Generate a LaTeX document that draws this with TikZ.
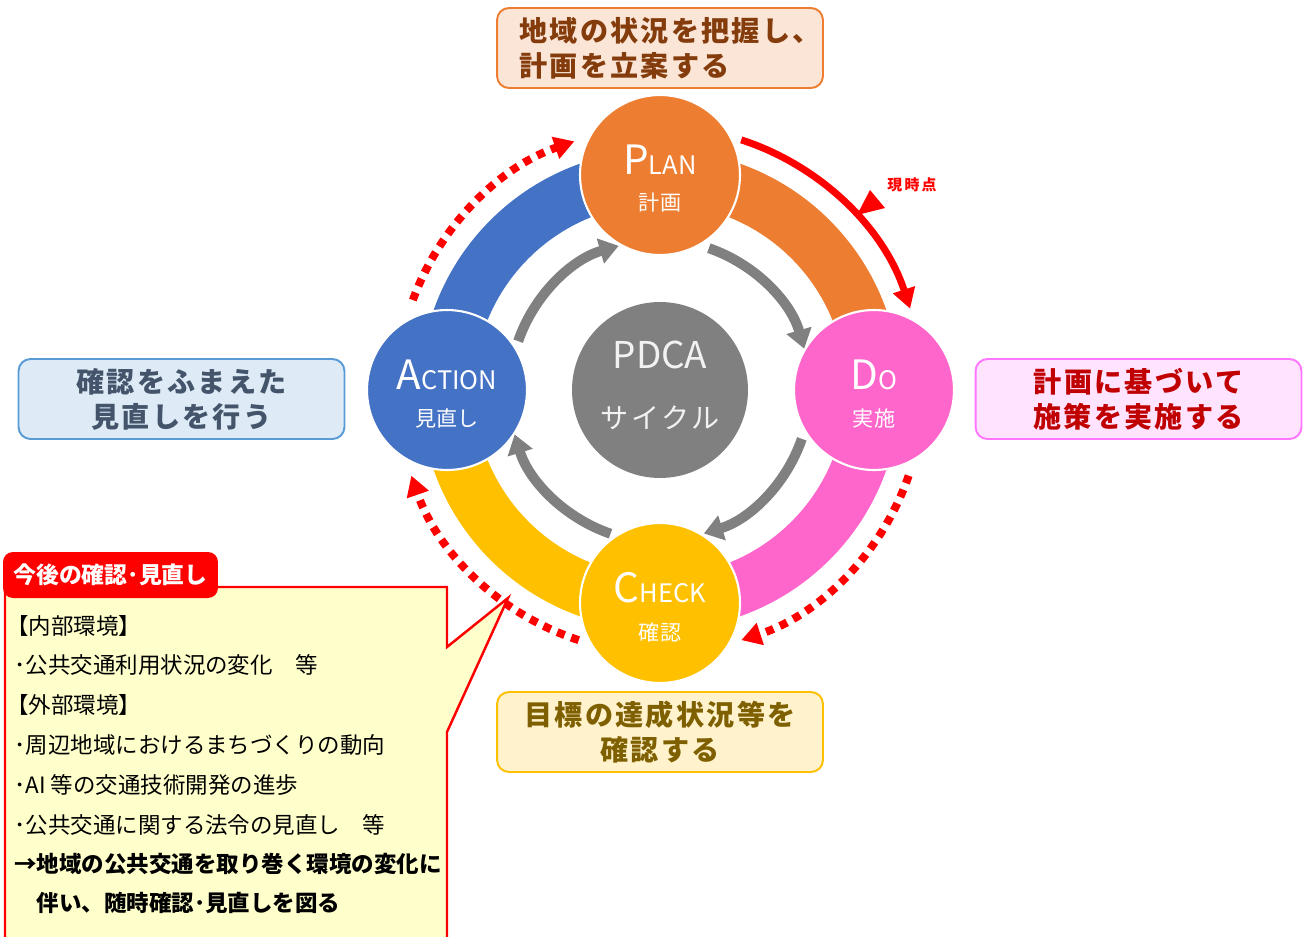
\documentclass[tikz,border=0pt]{standalone}
\usepackage{fontspec}
\setmainfont{Noto Sans CJK JP}
\usetikzlibrary{arrows.meta}
\definecolor{cplan}{HTML}{ED7D31}
\definecolor{cdo}{HTML}{FF66CC}
\definecolor{ccheck}{HTML}{FFC000}
\definecolor{cact}{HTML}{4472C4}
\definecolor{cgray}{HTML}{808080}
\definecolor{cred}{HTML}{FF0000}
\definecolor{planfill}{HTML}{FBE5D6}
\definecolor{plantext}{HTML}{843C0C}
\definecolor{dofill}{HTML}{FFE3FF}
\definecolor{doline}{HTML}{FF77FF}
\definecolor{dotext}{HTML}{C00000}
\definecolor{actfill}{HTML}{DEEBF7}
\definecolor{actline}{HTML}{5B9BD5}
\definecolor{acttext}{HTML}{44546A}
\definecolor{chkfill}{HTML}{FFF2CC}
\definecolor{chkline}{HTML}{FFC000}
\definecolor{chktext}{HTML}{7F6000}
\definecolor{notefill}{HTML}{FFFFCC}
\definecolor{pdcatext}{HTML}{F2F2F2}

\newcommand\boxfont{\fontsize{16}{19.8}\selectfont\bfseries\addfontfeatures{LetterSpace=8}}
\newcommand\stlabel[2]{{\fontsize{23}{23}\selectfont #1}{\fontsize{14.5}{14.5}\selectfont #2}}

\begin{document}
\begin{tikzpicture}[x=0.02cm,y=0.02cm,
  band/.style={line width=1.08cm},
  stage/.style={circle,minimum size=3.2cm,inner sep=0,draw=white,line width=1.2pt},
  biglbl/.style={text=white,inner sep=0},
  jplbl/.style={text=white,inner sep=0,font=\fontsize{12}{12}\selectfont},
  garrow/.style={cgray,line width=0.2cm,-{Triangle[width=0.5cm,length=0.38cm]}},
  rsolid/.style={cred,line width=0.14cm,-{Triangle[width=0.44cm,length=0.4cm]}},
  rdot/.style={cred,line width=0.16cm,dash pattern=on 0.16cm off 0.14cm,-{Triangle[width=0.44cm,length=0.4cm]}},
  tbox/.style={rounded corners=0.24cm,line width=1.1pt,minimum width=6.52cm,minimum height=1.6cm,inner sep=0,font=\boxfont},
  notetxt/.style={anchor=west,inner sep=0,font=\fontsize{12.8}{12.8}\selectfont},
  notebold/.style={anchor=west,inner sep=0,font=\fontsize{12.8}{12.8}\selectfont\bfseries}
]
\useasboundingbox (0,0) rectangle (1303,-937);
\clip (0,0) rectangle (1303,-937);
\fill[white] (0,0) rectangle (1303,-937);

\coordinate (C) at (660,-390);
% bands
\draw[band,cplan] (C) ++(90:213) arc[start angle=90,end angle=0,radius=213];
\draw[band,cdo] (C) ++(0:213) arc[start angle=0,end angle=-90,radius=213];
\draw[band,ccheck] (C) ++(-90:213) arc[start angle=-90,end angle=-180,radius=213];
\draw[band,cact] (C) ++(180:213) arc[start angle=180,end angle=90,radius=213];

% circles
\node[stage,fill=cplan] (plan) at (660,-175) {};
\node[stage,fill=cdo] (do) at (874,-390) {};
\node[stage,fill=ccheck] (check) at (660,-603) {};
\node[stage,fill=cact] (act) at (447,-390) {};
\node[circle,minimum size=3.52cm,inner sep=0,fill=cgray] (pdca) at (C) {};

% gray inner arrows
\draw[garrow] (C) ++(71:150) arc[start angle=71,end angle=16,radius=150];
\draw[garrow] (C) ++(-19:150) arc[start angle=-19,end angle=-73,radius=150];
\draw[garrow] (C) ++(-109:152) arc[start angle=-109,end angle=-163,radius=152];
\draw[garrow] (C) ++(161:150) arc[start angle=161,end angle=106,radius=150];

% red outer arrows
\draw[rsolid] (C) ++(72:263) arc[start angle=72,end angle=18,radius=263];
\draw[rdot] (C) ++(-19:263) arc[start angle=-19,end angle=-72,radius=263];
\draw[rdot] (C) ++(-108:263) arc[start angle=-108,end angle=-161,radius=263];
\draw[rdot] (C) ++(160:263) arc[start angle=160,end angle=109,radius=263];
\fill[cred] (857,-215) -- (870,-190) -- (885,-208) -- cycle;
\node[text=cred,inner sep=0,font=\fontsize{8.5}{8.5}\selectfont\bfseries\addfontfeatures{LetterSpace=15}] (now) at (912,-185) {現時点};

% circle labels
\node[biglbl] (planl) at (660,-160) {\stlabel{P}{LAN}};
\node[jplbl] (planj) at (660,-203) {計画};
\node[biglbl] (dol) at (874,-375) {\stlabel{D}{O}};
\node[jplbl] (doj) at (874,-418) {実施};
\node[biglbl] (checkl) at (660,-588) {\stlabel{C}{HECK}};
\node[jplbl] (checkj) at (660,-632) {確認};
\node[biglbl] (actl) at (447,-375) {\stlabel{A}{CTION}};
\node[jplbl] (actj) at (447,-418) {見直し};
\node[text=pdcatext,inner sep=0,font=\fontsize{21}{21}\selectfont] (pdcal) at (660,-355) {PDCA};
\node[text=pdcatext,inner sep=0,font=\fontsize{16}{16}\selectfont\addfontfeatures{LetterSpace=10}] (pdcaj) at (660,-418) {サイクル};

% text boxes
\node[tbox,draw=cplan,fill=planfill,text=plantext,align=left] (tplan) at (660,-48) {\hspace*{0.4cm}地域の状況を把握し、\\\hspace*{0.4cm}計画を立案する};
\node[tbox,draw=doline,fill=dofill,text=dotext,align=center] (tdo) at (1138.5,-399) {計画に基づいて\\施策を実施する};
\node[tbox,draw=actline,fill=actfill,text=acttext,align=center] (tact) at (181.5,-399) {確認をふまえた\\見直しを行う};
\node[tbox,draw=chkline,fill=chkfill,text=chktext,align=center] (tchk) at (660,-732) {目標の達成状況等を\\確認する};

% callout
\filldraw[draw=cred,fill=notefill,line width=1.4pt] (5,-587) -- (447,-587) -- (447,-647) -- (508,-598) -- (447,-732) -- (447,-960) -- (5,-960) -- cycle;
\node[fill=cred,rounded corners=0.2cm,minimum width=4.3cm,minimum height=0.92cm,inner sep=0,text=white,font=\fontsize{13}{13}\selectfont\bfseries] (tab) at (110.5,-575) {今後の確認･見直し};
\node[notetxt] (n1) at (6,-626) {【内部環境】};
\node[notetxt] (n2) at (14,-665) {･公共交通利用状況の変化　等};
\node[notetxt] (n3) at (6,-705) {【外部環境】};
\node[notetxt] (n4) at (14,-745) {･周辺地域におけるまちづくりの動向};
\node[notetxt] (n5) at (14,-785) {･AI 等の交通技術開発の進歩};
\node[notetxt] (n6) at (14,-825) {･公共交通に関する法令の見直し　等};
\node[notebold] (n7) at (14,-864) {→地域の公共交通を取り巻く環境の変化に};
\node[notebold] (n8) at (14,-903) {　伴い、随時確認･見直しを図る};
\end{tikzpicture}
\end{document}
